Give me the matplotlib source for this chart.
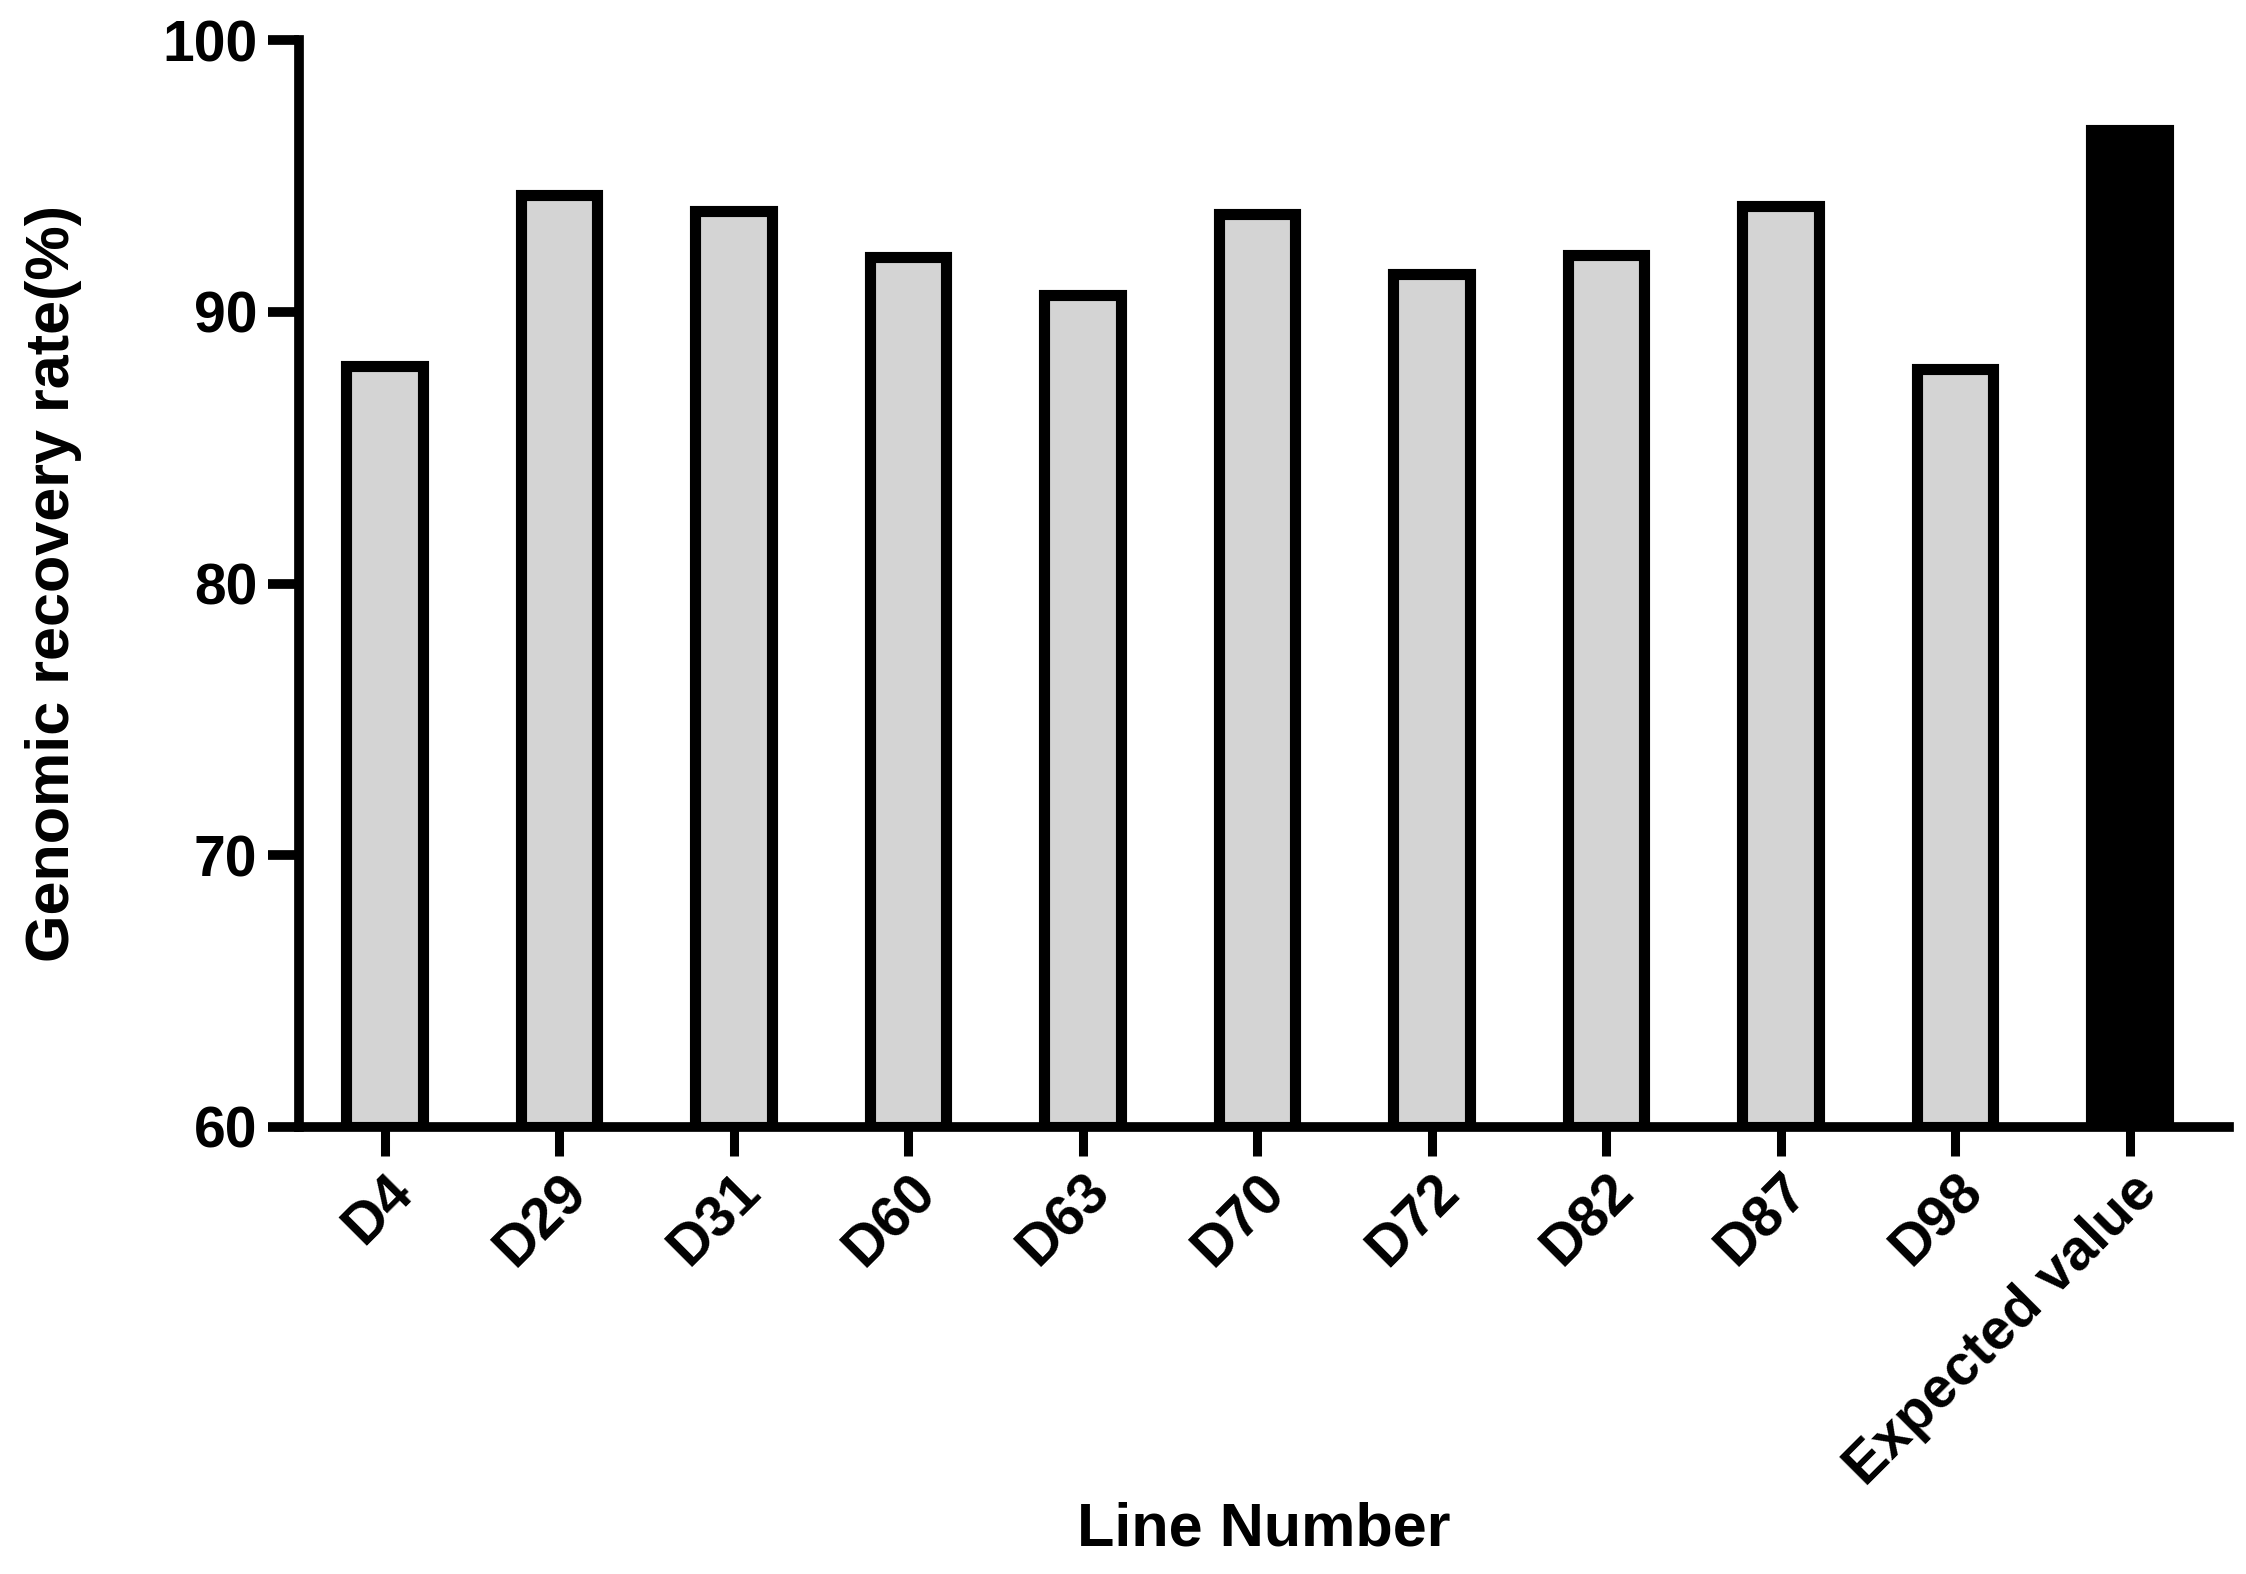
import matplotlib
matplotlib.use("Agg")
import matplotlib.pyplot as plt

categories = ["D4", "D29", "D31", "D60", "D63", "D70", "D72", "D82", "D87", "D98", "Expected value"]
values = [88.0, 94.3, 93.7, 92.0, 90.6, 93.6, 91.4, 92.1, 93.9, 87.9, 96.7]
fill_colors = ["#D4D4D4"] * 10 + ["#000000"]

plt.rcParams['font.family'] = ['Liberation Sans', 'DejaVu Sans']
plt.rcParams['font.weight'] = 'bold'

fig = plt.figure(figsize=(22.46, 15.74), dpi=100)
ax = fig.add_axes([299/2246, 1 - 1127/1574, (2229-299)/2246, (1127-40)/1574])

x = list(range(len(categories)))
ax.bar(x, [v - 60 for v in values], bottom=60, width=0.44, color=fill_colors,
       edgecolor="black", linewidth=8, zorder=3)

ax.set_ylim(60, 100)
ax.set_xlim(-0.49, 10.57)
ax.set_yticks([60, 70, 80, 90, 100])
ax.set_xticks(x)
ax.set_xticklabels(categories, rotation=45, ha='right', va='top', rotation_mode='anchor')

for s in ['top', 'right']:
    ax.spines[s].set_visible(False)
for s in ['left', 'bottom']:
    ax.spines[s].set_linewidth(7)
    ax.spines[s].set_capstyle('projecting')

ax.tick_params(axis='y', length=22, width=7, labelsize=41, pad=8)
ax.tick_params(axis='x', length=21, width=6.5, labelsize=41, pad=6)

ax.set_ylabel("Genomic recovery rate(%)", fontsize=44, fontweight='bold')
ax.yaxis.set_label_coords(-0.127, 0.5)
ax.set_xlabel("Line Number", fontsize=44, fontweight='bold')
ax.xaxis.set_label_coords(0.5, -0.371)
ax.xaxis.label.set_va('center')
ax.yaxis.label.set_va('center')

fig.savefig("out.png", dpi=100, facecolor="white")
